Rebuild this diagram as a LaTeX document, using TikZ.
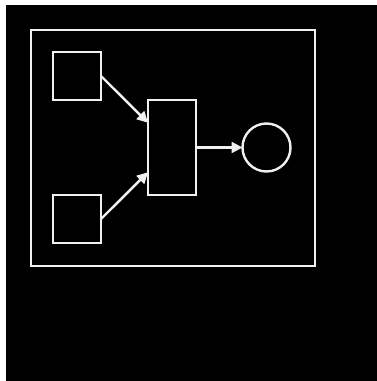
\documentclass[tikz,border=0pt]{standalone}
\usetikzlibrary{arrows.meta,calc}
\definecolor{ln}{HTML}{F0F0F0}
\begin{document}
\begin{tikzpicture}[x=1pt,y=-1pt,
  box/.style={draw=ln,line width=2.4pt,minimum width=48pt,minimum height=48pt,inner sep=0pt,outer sep=0pt,anchor=north west},
  tall/.style={draw=ln,line width=2.4pt,minimum width=48pt,minimum height=95pt,inner sep=0pt,outer sep=0pt,anchor=north west},
  ring/.style={draw=ln,line width=2.4pt,circle,minimum size=48pt,inner sep=0pt,outer sep=0pt},
  frame/.style={draw=ln,line width=2.4pt,minimum width=284pt,minimum height=236pt,inner sep=0pt,anchor=north west},
  arr/.style={draw=ln,line width=2.4pt,-{Triangle[length=11pt,width=11pt]}}]
\useasboundingbox (0,0) rectangle (377,381);
\fill[white] (0,0) rectangle (377,381);
\fill[black] (6,5) rectangle (377,381);
\node[frame] (fr) at (30,29) {};
\node[box] (a) at (53,52) {};
\node[box] (b) at (53,195) {};
\node[tall] (m) at (148,100) {};
\node[ring] (c) at (266.5,147.5) {};
\coordinate (m1) at ($(m.north west)!0.24!(m.south west)$);
\coordinate (m2) at ($(m.north west)!0.76!(m.south west)$);
\draw[arr] (a.east) -- (m1);
\draw[arr] (b.east) -- (m2);
\draw[arr] (m.east) -- (c.west);
\end{tikzpicture}
\end{document}
